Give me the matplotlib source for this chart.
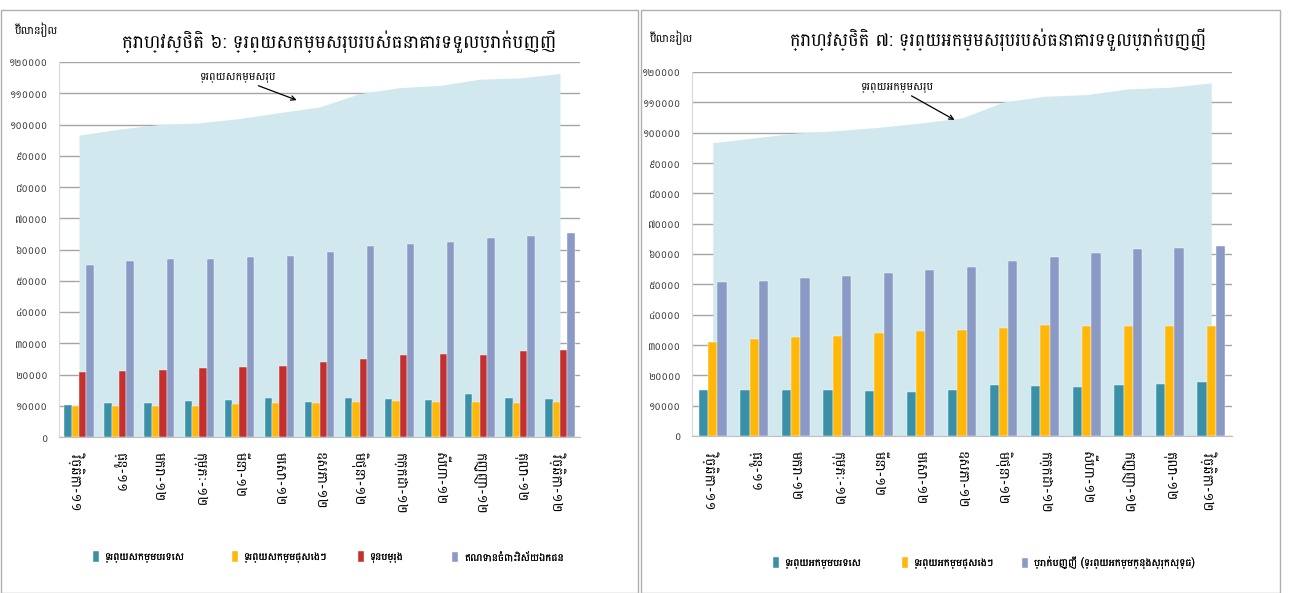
import matplotlib
matplotlib.use("Agg")
import matplotlib.pyplot as plt
from matplotlib import font_manager
from matplotlib.ft2font import FT2Font
from matplotlib.patches import Rectangle
import numpy as np

# ---------------- data ----------------
months = ["វិច្ឆិកា-១១", "ធ្នូ-១១", "មករា-១២", "កុម្ភៈ-១២", "មីនា-១២", "មេសា-១២", "ឧសភា-១២",
          "មិថុនា-១២", "កក្កដា-១២", "សីហា-១២", "កញ្ញា-១២", "តុលា-១២", "វិច្ឆិកា-១២"]
ytick_vals = [0, 10000, 20000, 30000, 40000, 50000, 60000, 70000, 80000, 90000, 100000, 110000, 120000]
ytick_labels = ["០", "១០០០០", "២០០០០", "៣០០០០", "៤០០០០", "៥០០០០", "៦០០០០", "៧០០០០",
                "៨០០០០", "៩០០០០", "១០០០០០", "១១០០០០", "១២០០០០"]

# Chart 6: assets
assets_total = [96600, 98500, 100000, 100500, 101900, 103800, 105600, 109900, 111800, 112500, 114500, 114900, 116300]
assets_foreign = [10330, 10860, 10860, 11500, 11710, 12350, 11290, 12570, 12140, 11930, 13630, 12350, 12140]
assets_other = [10010, 10010, 10010, 10010, 10540, 10860, 10860, 11080, 11500, 11290, 11080, 10860, 11080]
assets_reserves = [20870, 21090, 21510, 21940, 22360, 22580, 24070, 24920, 26200, 26410, 26200, 27480, 27900]
assets_credit = [55060, 56340, 56980, 56980, 57510, 58040, 59110, 61230, 61870, 62510, 63580, 64220, 65180]

# Chart 7: liabilities
liab_total = [96700, 98240, 99890, 100660, 101760, 103190, 104850, 110130, 112000, 112560, 114430, 114980, 116410]
liab_foreign = [15090, 15310, 15090, 15090, 14760, 14540, 15310, 16740, 16410, 16080, 16740, 17070, 17730]
liab_other = [31060, 31940, 32710, 32930, 34030, 34580, 34910, 35680, 36560, 36230, 36230, 36230, 36230]
liab_deposits = [50660, 50990, 51980, 52750, 53630, 54630, 55730, 57820, 59140, 60240, 61670, 62110, 62670]

title6 = "ក្រាហ្វស្ថិតិ ៦: ទ្រព្យសកម្មសរុបរបស់ធនាគារទទួលប្រាក់បញ្ញើ"
title7 = "ក្រាហ្វស្ថិតិ ៧: ទ្រព្យអកម្មសរុបរបស់ធនាគារទទួលប្រាក់បញ្ញើ"
unit_label = "ប៊ីលានរៀល"
ann6 = "ទ្រព្យសកម្មសរុប"
ann7 = "ទ្រព្យអកម្មសរុប"
legend6 = ["ទ្រព្យសកម្មបរទេស", "ទ្រព្យសកម្មផ្សេងៗ", "ទុនបម្រុង", "ឥណទានចំពោះវិស័យឯកជន"]
legend7 = ["ទ្រព្យអកម្មបរទេស", "ទ្រព្យអកម្មផ្សេងៗ", "ប្រាក់បញ្ញើ (ទ្រព្យអកម្មក្នុងស្រុកសុទ្ធ)"]

# ---------------- fonts ----------------
khmer = []
for f in font_manager.fontManager.ttflist:
    try:
        cm = FT2Font(f.fname).get_charmap()
        if 0x1780 in cm and f.name not in khmer:
            khmer.append(f.name)
    except Exception:
        pass
preferred = ["Battambang", "Hanuman", "Noto Sans Khmer", "Kantumruy Pro", "Siemreap", "Khmer"]
chosen = [p for p in preferred if p in khmer] or [k for k in khmer if "Unifont" not in k] or khmer
families = chosen[:1] + ["DejaVu Sans"]
plt.rcParams["font.family"] = families

C_TEAL = "#3A90A6"
C_YELLOW = "#FFB80A"
C_RED = "#C3302E"
C_PURPLE = "#8A9AC4"
C_AREA = "#D0E8EE"
C_GRID = "#A4A4A4"

W, H = 1290, 593
fig = plt.figure(figsize=(W / 100, H / 100), dpi=100)

# panel frames
fig.add_artist(Rectangle((0.5 / W, 0), 637 / W, 583 / H, transform=fig.transFigure,
                         fill=False, edgecolor="#B0B0B0", lw=1))
fig.add_artist(Rectangle((641 / W, 0), 639 / W, 583 / H, transform=fig.transFigure,
                         fill=False, edgecolor="#B0B0B0", lw=1))


def setup_axes(ax):
    ax.set_xlim(-0.5, 12.5)
    ax.set_ylim(0, 120000)
    ax.set_yticks(ytick_vals)
    ax.set_yticklabels(ytick_labels, fontsize=7, color="#333333")
    ax.set_xticks(np.arange(len(months)))
    ax.set_xticklabels(months, rotation=-90, fontsize=10, va="top", ha="center")
    ax.tick_params(axis="y", length=0, pad=8)
    ax.tick_params(axis="x", length=0, pad=11)
    ax.grid(axis="y", color=C_GRID, lw=1)
    ax.set_axisbelow(True)
    for s in ["top", "right"]:
        ax.spines[s].set_visible(False)
    ax.spines["left"].set_color("#D9D9D9")
    ax.spines["bottom"].set_color("#BFBFBF")


def item_legends(handles, labels, xs_px, y_px):
    for h, lab, xp in zip(handles, labels, xs_px):
        lg = fig.legend([h], [lab], loc="center left", bbox_to_anchor=(xp / W, 1 - y_px / H),
                        frameon=False, fontsize=7.5, handlelength=0.6, handleheight=1.2,
                        handletextpad=0.55, borderpad=0, borderaxespad=0)
        fig.add_artist(lg)


x = np.arange(len(months))

# ---- left chart ----
ax1 = fig.add_axes([59 / W, 1 - 437 / H, (580 - 59) / W, (437 - 62) / H])
setup_axes(ax1)
ax1.fill_between(x, 0, assets_total, color=C_AREA, lw=0, zorder=1)
w = 0.184
series6 = [assets_foreign, assets_other, assets_reserves, assets_credit]
cols6 = [C_TEAL, C_YELLOW, C_RED, C_PURPLE]
handles6 = []
for i, (vals, c) in enumerate(zip(series6, cols6)):
    b = ax1.bar(x + (i - 1.5) * w, vals, w, color=c, edgecolor="#FFFFFF", lw=0.3, zorder=3)
    handles6.append(b)
ax1.annotate(ann6, xy=(5.43, 107800), xytext=(3.96, 114900), fontsize=8,
             ha="center", va="center", zorder=5,
             arrowprops=dict(arrowstyle="->", color="black", lw=0.9, shrinkA=0, shrinkB=0))
fig.text(339 / W, 1 - 42 / H, title6, fontsize=13.2, ha="center", va="center")
fig.text(15 / W, 1 - 30 / H, unit_label, fontsize=8, ha="left", va="center")
item_legends(handles6, legend6, [93, 232, 358, 452], 557)

# ---- right chart ----
ax2 = fig.add_axes([692 / W, 1 - 436 / H, (1232 - 692) / W, (436 - 72) / H])
setup_axes(ax2)
ax2.fill_between(x, 0, liab_total, color=C_AREA, lw=0, zorder=1)
w2 = 0.223
series7 = [liab_foreign, liab_other, liab_deposits]
cols7 = [C_TEAL, C_YELLOW, C_PURPLE]
handles7 = []
for i, (vals, c) in enumerate(zip(series7, cols7)):
    b = ax2.bar(x + (i - 1) * w2, vals, w2, color=c, edgecolor="#FFFFFF", lw=0.3, zorder=3)
    handles7.append(b)
ax2.annotate(ann7, xy=(5.82, 104200), xytext=(4.45, 114700), fontsize=8,
             ha="center", va="center", zorder=5,
             arrowprops=dict(arrowstyle="->", color="black", lw=0.9, shrinkA=0, shrinkB=0))
fig.text(998 / W, 1 - 40 / H, title7, fontsize=12.8, ha="center", va="center")
fig.text(650 / W, 1 - 38 / H, unit_label, fontsize=8, ha="left", va="center")
item_legends(handles7, legend7, [773, 902, 1022], 563)

fig.savefig("out.png", dpi=100)
